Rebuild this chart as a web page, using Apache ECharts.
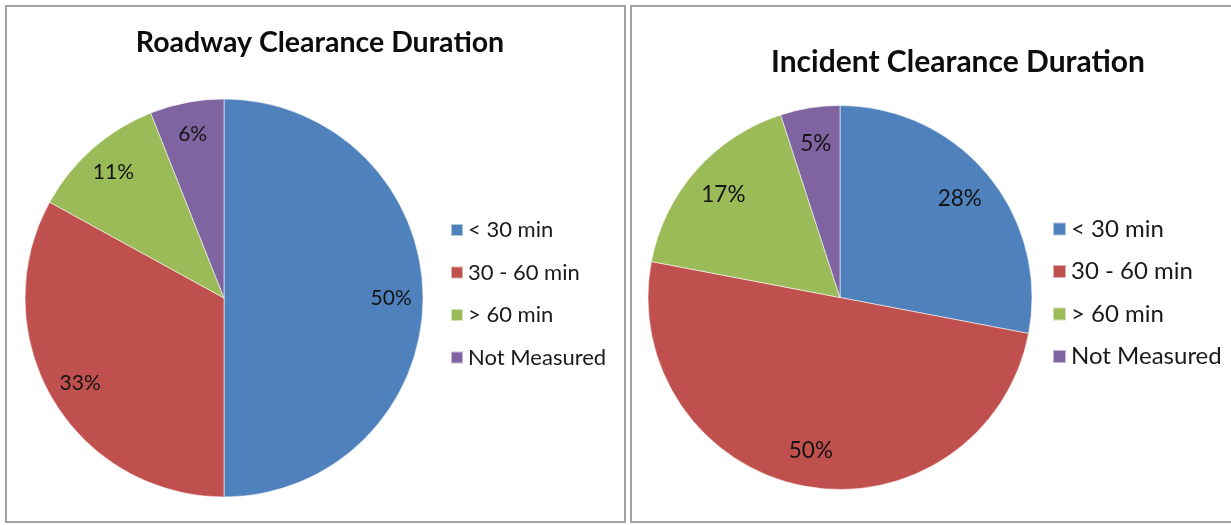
<!DOCTYPE html>
<html>
<head>
<meta charset="utf-8">
<script src="https://cdn.jsdelivr.net/npm/echarts@6/dist/echarts.min.js"></script>
<style>
  html, body { margin: 0; padding: 0; background: #fff; }
  #chart { width: 1231px; height: 525px; }
</style>
</head>
<body>
<div id="chart"></div>
<script>
// Duration categories shared by both charts
const categories = ['< 30 min', '30 - 60 min', '> 60 min', 'Not Measured'];
// Share of incidents per category (percent)
const roadwayValues = [50, 33, 11, 6];
const incidentValues = [28, 50, 17, 5];
const titles = ['Roadway Clearance Duration', 'Incident Clearance Duration'];
const sliceColors = ['#4F81BD', '#C0504D', '#9BBB59', '#8064A2'];

const FONT = 'Lato, "Open Sans", sans-serif';

// Pie geometry for each panel
const pies = [
  { center: [224, 298], radius: 199, labelFrac: 0.84, labelSize: 21, values: roadwayValues },
  { center: [840, 297.5], radius: 192, labelFrac: 0.81, labelSize: 22.5, values: incidentValues }
];

// Places a slice label along its mid-angle, near the outer edge
function labelPlacer(pie) {
  return function (params) {
    const vals = pie.values;
    const total = vals.reduce((a, b) => a + b, 0);
    let before = 0;
    for (let i = 0; i < params.dataIndex; i++) before += vals[i];
    const mid = (before + vals[params.dataIndex] / 2) / total * Math.PI * 2;
    const d = pie.radius * pie.labelFrac;
    return {
      x: pie.center[0] + d * Math.sin(mid),
      y: pie.center[1] - d * Math.cos(mid),
      align: 'center',
      verticalAlign: 'middle'
    };
  };
}

function pieSeries(pie, idx) {
  return {
    type: 'pie',
    name: titles[idx],
    center: pie.center,
    radius: pie.radius,
    startAngle: 90,
    clockwise: true,
    avoidLabelOverlap: false,
    silent: true,
    itemStyle: { borderColor: 'rgba(255,255,255,0.55)', borderWidth: 1 },
    label: {
      show: true,
      position: 'inside',
      formatter: '{c}%',
      color: '#141414',
      fontFamily: FONT,
      fontSize: pie.labelSize
    },
    labelLine: { show: false },
    labelLayout: labelPlacer(pie),
    data: categories.map((name, i) => ({
      name: name,
      value: pie.values[i],
      itemStyle: { color: sliceColors[i] }
    }))
  };
}

function legend(left, top, fontSize, box, gap) {
  return {
    orient: 'vertical',
    left: left,
    top: top,
    padding: 0,
    icon: 'rect',
    itemWidth: box,
    itemHeight: box,
    itemGap: gap,
    selectedMode: false,
    data: categories,
    textStyle: { fontFamily: FONT, fontSize: fontSize, color: '#1a1a1a', lineHeight: 20 }
  };
}

const chart = echarts.init(document.getElementById('chart'), null, { renderer: 'canvas' });
chart.setOption({
  backgroundColor: '#fff',
  animation: false,
  color: sliceColors,
  graphic: [
    { type: 'rect', z: -10, shape: { x: 6, y: 6, width: 619, height: 516 },
      style: { fill: '#fff', stroke: '#a3a3a3', lineWidth: 2 } },
    { type: 'rect', z: -10, shape: { x: 631, y: 6, width: 612, height: 516 },
      style: { fill: '#fff', stroke: '#a3a3a3', lineWidth: 2 } }
  ],
  title: [
    { text: titles[0], left: 315, top: 23, textAlign: 'center',
      textStyle: { fontFamily: FONT, fontWeight: 'bold', fontSize: 28.5, color: '#0d0d0d' } },
    { text: titles[1], left: 953, top: 42, textAlign: 'center',
      textStyle: { fontFamily: FONT, fontWeight: 'bold', fontSize: 30, color: '#0d0d0d' } }
  ],
  legend: [
    legend(450, 219, 22, 12, 20.5),
    legend(1052, 217, 24, 13, 18.5)
  ],
  series: pies.map(pieSeries)
});
</script>
</body>
</html>
